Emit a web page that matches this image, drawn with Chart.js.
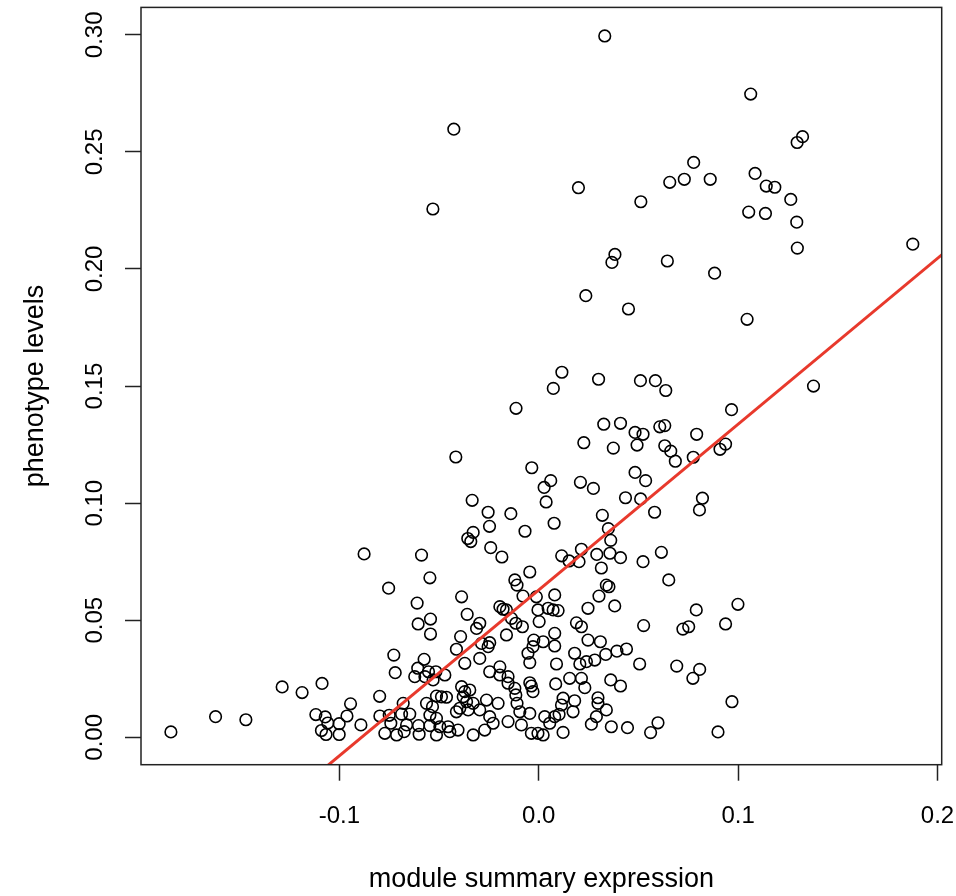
<!DOCTYPE html>
<html><head><meta charset="utf-8">
<script src="https://cdn.jsdelivr.net/npm/chart.js@4/dist/chart.umd.min.js"></script>
<style>html,body{margin:0;padding:0;background:#fff;} #wrap{width:956px;height:896px;}</style>
</head><body><div id="wrap"><canvas id="c" width="956" height="896"></canvas></div>
<script>
const xTitle = 'module summary expression';
const yTitle = 'phenotype levels';
const xTicks = [-0.1, 0.0, 0.1, 0.2];
const yTicks = [0.00, 0.05, 0.10, 0.15, 0.20, 0.25, 0.30];
const xRange = [-0.1995, 0.2021];
const yRange = [-0.0117, 0.3117];

const moduleExpr = [
-0.1845,-0.1621,-0.1469,-0.1287,-0.1187,-0.1087,-0.0944,-0.1118,-0.1071,-0.1058,
-0.1001,-0.0962,-0.1090,-0.1067,-0.1001,-0.0892,-0.0876,-0.0588,-0.0546,-0.0753,
-0.0610,-0.0605,-0.0543,-0.0543,-0.0727,-0.0720,-0.0575,-0.0607,-0.0553,-0.0622,
-0.0516,-0.0571,-0.0798,-0.0680,-0.0563,-0.0513,-0.0797,-0.0750,-0.0688,-0.0647,
-0.0546,-0.0742,-0.0663,-0.0603,-0.0546,-0.0772,-0.0713,-0.0675,-0.0600,-0.0513,
-0.0114,-0.0416,-0.0035,-0.0334,-0.0254,-0.0140,-0.0247,-0.0329,-0.0356,-0.0341,
-0.0069,-0.0241,-0.0185,
0.0331,0.1063,-0.0426,0.1323,0.1296,0.0777,0.0199,0.0657,0.0730,0.0860,
0.1085,0.1141,0.1184,0.1264,0.0512,0.1053,0.1137,0.1294,0.1876,0.1297,
0.0382,0.0367,0.0645,0.0882,0.0236,0.0450,0.1045,0.0116,0.0300,0.0510,
0.0585,0.1378,0.0073,0.0637,-0.0531,
0.0326,0.0410,0.0483,0.0523,0.0607,0.0632,0.0226,0.0374,0.0493,0.0632,
0.0662,0.0685,0.0775,0.0792,0.0967,0.0909,0.0937,0.0060,0.0027,0.0037,
0.0209,0.0274,0.0483,0.0536,0.0435,0.0511,0.0581,0.0821,0.0806,0.0319,
0.0077,0.0349,0.0361,0.0115,0.0152,0.0214,0.0202,0.0291,0.0357,0.0410,
0.0523,0.0615,0.0314,
-0.0045,-0.0120,-0.0109,-0.0079,-0.0387,-0.0359,-0.0195,-0.0179,-0.0162,-0.0296,
-0.0312,-0.0137,-0.0115,-0.0082,-0.0392,-0.0413,-0.0287,-0.0246,-0.0296,-0.0371,
-0.0162,-0.0254,-0.0045,-0.0025,-0.0029,-0.0054,-0.0246,-0.0195,-0.0195,-0.0154,
-0.0154,-0.0471,-0.0530,-0.0387,-0.0371,-0.0346,-0.0488,-0.0463,-0.0379,-0.0362,
-0.0329,-0.0354,-0.0296,-0.0262,-0.0204,-0.0120,-0.0115,-0.0109,-0.0045,-0.0037,
-0.0029,-0.0413,-0.0396,-0.0533,-0.0513,-0.0496,-0.0455,-0.0446,-0.0405,-0.0246,
-0.0229,-0.0154,-0.0095,-0.0087,-0.0045,-0.0037,-0.0004,-0.0329,-0.0271,
0.0339,0.0352,0.0302,0.0381,0.0080,-0.0012,-0.0004,0.0047,0.0072,0.0097,
0.0002,0.0247,0.0189,0.0214,0.0022,0.0080,0.0080,0.0089,0.0247,0.0309,
0.0180,0.0206,0.0239,0.0281,0.0336,0.0392,0.0440,0.0506,0.0155,0.0214,
0.0231,0.0085,0.0361,0.0410,0.0122,0.0180,0.0114,0.0172,0.0297,0.0297,
0.0339,0.0289,0.0264,0.0030,0.0080,0.0102,0.0055,0.0122,0.0022,0.0364,
0.0445,
0.0652,0.0790,0.0999,0.0526,0.0723,0.0752,0.0937,0.0692,0.0807,0.0773,
0.0969,0.0598,0.0561,0.0899
];
const phenotype = [
0.0023,0.0088,0.0075,0.0215,0.0191,0.0230,0.0143,0.0097,0.0087,0.0061,
0.0058,0.0091,0.0029,0.0012,0.0012,0.0053,0.0783,0.0778,0.0681,0.0637,
0.0573,0.0484,0.0505,0.0441,0.0351,0.0276,0.0333,0.0295,0.0280,0.0259,
0.0280,0.0259,0.0175,0.0145,0.0145,0.0176,0.0091,0.0094,0.0099,0.0099,
0.0095,0.0060,0.0053,0.0050,0.0050,0.0017,0.0010,0.0024,0.0013,0.0010,
0.1405,0.1197,0.1151,0.1012,0.0961,0.0955,0.0901,0.0875,0.0849,0.0836,
0.0880,0.0810,0.0770,
0.2995,0.2747,0.2597,0.2565,0.2540,0.2455,0.2347,0.2370,0.2383,0.2383,
0.2408,0.2354,0.2349,0.2297,0.2287,0.2243,0.2237,0.2200,0.2106,0.2089,
0.2062,0.2028,0.2034,0.1982,0.1886,0.1829,0.1785,0.1559,0.1529,0.1523,
0.1523,0.1500,0.1490,0.1481,0.2256,
0.1337,0.1341,0.1302,0.1294,0.1326,0.1331,0.1258,0.1235,0.1248,0.1245,
0.1222,0.1179,0.1196,0.1294,0.1399,0.1230,0.1252,0.1096,0.1067,0.1005,
0.1089,0.1063,0.1131,0.1096,0.1023,0.1018,0.0961,0.1021,0.0971,0.0948,
0.0914,0.0891,0.0841,0.0775,0.0753,0.0803,0.0750,0.0781,0.0786,0.0767,
0.0750,0.0790,0.0723,
0.0706,0.0672,0.0650,0.0603,0.0600,0.0525,0.0558,0.0547,0.0544,0.0487,
0.0465,0.0508,0.0487,0.0472,0.0430,0.0376,0.0401,0.0404,0.0337,0.0316,
0.0437,0.0387,0.0319,0.0415,0.0387,0.0359,0.0280,0.0301,0.0266,0.0259,
0.0231,0.0266,0.0245,0.0216,0.0195,0.0202,0.0173,0.0171,0.0173,0.0152,
0.0145,0.0117,0.0117,0.0159,0.0145,0.0209,0.0181,0.0145,0.0233,0.0219,
0.0195,0.0109,0.0124,0.0131,0.0081,0.0045,0.0045,0.0024,0.0031,0.0088,
0.0060,0.0067,0.0109,0.0053,0.0102,0.0017,0.0017,0.0010,0.0031,
0.0650,0.0643,0.0603,0.0561,0.0608,0.0600,0.0544,0.0551,0.0544,0.0541,
0.0494,0.0551,0.0489,0.0472,0.0408,0.0444,0.0390,0.0313,0.0415,0.0408,
0.0359,0.0313,0.0323,0.0330,0.0354,0.0368,0.0377,0.0313,0.0252,0.0252,
0.0212,0.0228,0.0245,0.0219,0.0167,0.0156,0.0138,0.0109,0.0169,0.0145,
0.0117,0.0088,0.0056,0.0088,0.0088,0.0098,0.0060,0.0021,0.0010,0.0045,
0.0041,
0.0672,0.0544,0.0568,0.0477,0.0462,0.0472,0.0484,0.0304,0.0290,0.0252,
0.0152,0.0062,0.0020,0.0023
];
const fitX = [-0.2, 0.21];
const fitY = [-0.0787, 0.2116];

const FONT = '"Liberation Sans", Arial, Helvetica, sans-serif';

const boxPlugin = {
  id: 'box',
  afterDatasetsDraw(chart) {
    const {ctx, chartArea: a} = chart;
    ctx.save();
    ctx.strokeStyle = '#222';
    ctx.lineWidth = 1.5;
    ctx.strokeRect(a.left, a.top, a.right - a.left, a.bottom - a.top);
    ctx.restore();
  }
};

new Chart(document.getElementById('c'), {
  type: 'scatter',
  data: {
    datasets: [
      {
        type: 'line',
        data: fitX.map((x, i) => ({x: x, y: fitY[i]})),
        borderColor: '#e8392c',
        borderWidth: 3,
        pointRadius: 0,
        fill: false,
        tension: 0
      },
      {
        type: 'scatter',
        data: moduleExpr.map((x, i) => ({x: x, y: phenotype[i]})),
        pointStyle: 'circle',
        pointRadius: 5.8,
        pointHoverRadius: 5.8,
        pointBorderWidth: 1.6,
        borderColor: '#000',
        backgroundColor: 'rgba(0,0,0,0)'
      }
    ]
  },
  options: {
    responsive: false,
    animation: false,
    devicePixelRatio: 1,
    events: [],
    layout: { padding: { top: 7.3, right: 14.3, left: 0, bottom: 0 } },
    plugins: { legend: { display: false }, tooltip: { enabled: false } },
    scales: {
      x: {
        type: 'linear', position: 'bottom',
        min: xRange[0], max: xRange[1],
        afterBuildTicks: s => { s.ticks = xTicks.map(v => ({value: v})); },
        afterFit: s => { s.height = 131.3; s.paddingLeft = 0; s.paddingRight = 0; },
        grid: { drawOnChartArea: false, drawTicks: true, tickLength: 16, tickWidth: 1.5, tickColor: '#222' },
        border: { display: false },
        ticks: { autoSkip: false, maxRotation: 0, minRotation: 0, padding: 21, color: '#000',
                 font: { family: FONT, size: 24 }, callback: v => Number(v).toFixed(1) },
        title: { display: true, text: xTitle, color: '#000', font: { family: FONT, size: 27 },
                 padding: { top: 0, bottom: 0 } }
      },
      y: {
        type: 'linear', position: 'left',
        min: yRange[0], max: yRange[1],
        afterBuildTicks: s => { s.ticks = yTicks.map(v => ({value: v})); },
        afterFit: s => { s.width = 141; s.paddingTop = 0; s.paddingBottom = 0; },
        grid: { drawOnChartArea: false, drawTicks: true, tickLength: 16, tickWidth: 1.5, tickColor: '#222' },
        border: { display: false },
        ticks: { autoSkip: false, minRotation: 90, maxRotation: 90, crossAlign: 'center', padding: 6, color: '#000',
                 font: { family: FONT, size: 24 }, callback: v => Number(v).toFixed(2) },
        title: { display: true, text: yTitle, color: '#000', font: { family: FONT, size: 27 },
                 padding: { top: 19, bottom: 0 } }
      }
    }
  },
  plugins: [boxPlugin]
});
</script>
</body></html>
